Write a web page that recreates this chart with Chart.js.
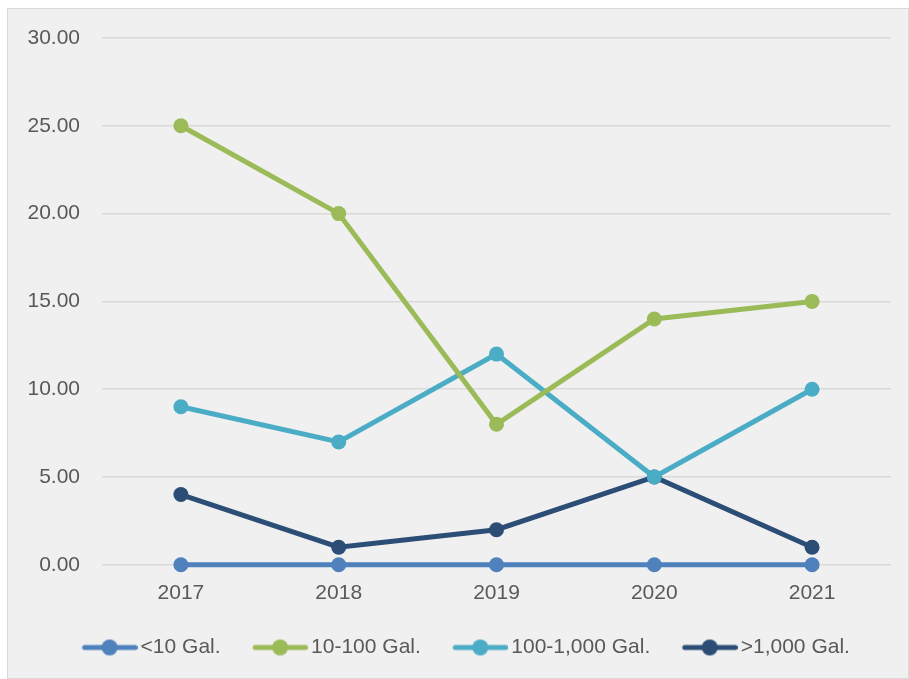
<!DOCTYPE html>
<html lang="en">
<head>
    <meta charset="UTF-8">
    <title>Spills by volume</title>
    <script src="https://cdn.jsdelivr.net/npm/chart.js"></script>
    <style>
        body { margin: 0; background: #ffffff; }
        #frame {
            position: absolute; left: 7px; top: 8px;
            width: 902px; height: 671px;
            background: #f0f0f0; border: 1px solid #d9d9d9; box-sizing: border-box;
        }
        #myChart { display: block; }
    </style>
</head>
<body>
    <div id="frame"><canvas id="myChart" width="900" height="669"></canvas></div>
    <script>
        const years = ['2017', '2018', '2019', '2020', '2021'];
        const under10 = [0, 0, 0, 0, 0];
        const from10to100 = [25, 20, 8, 14, 15];
        const from100to1000 = [9, 7, 12, 5, 10];
        const over1000 = [4, 1, 2, 5, 1];
        const seriesNames = ['<10 Gal.', '10-100 Gal.', '100-1,000 Gal.', '>1,000 Gal.'];
        const colors = ['#4f81bd', '#9bbb59', '#4bacc6', '#2c4d75'];

        const labelFont = { family: 'Liberation Sans', size: 21 };

        // line-with-dot swatch for the legend; drawn on the right side of the
        // canvas so it sits just before the label text
        function swatch(color) {
            const c = document.createElement('canvas');
            c.width = 72; c.height = 20;
            const g = c.getContext('2d');
            g.strokeStyle = color; g.lineWidth = 5; g.lineCap = 'round';
            g.beginPath(); g.moveTo(19, 10); g.lineTo(69.5, 10); g.stroke();
            g.fillStyle = color;
            g.beginPath(); g.arc(44, 10, 8, 0, Math.PI * 2); g.fill();
            return c;
        }

        function makeSet(i, values) {
            return {
                label: seriesNames[i],
                data: values,
                borderColor: colors[i],
                backgroundColor: colors[i],
                borderWidth: 5,
                pointRadius: 7.5,
                pointHoverRadius: 7.5,
                pointBorderWidth: 0,
                pointStyle: 'circle',
                clip: 12,
                tension: 0
            };
        }

        // nudge the legend row a little to the right
        const legendShift = {
            id: 'legendShift',
            afterLayout(chart) {
                chart.legend.left += 12;
                chart.legend.right += 12;
            }
        };

        const ctx = document.getElementById('myChart').getContext('2d');
        const myChart = new Chart(ctx, {
            type: 'line',
            data: {
                labels: years,
                datasets: [
                    makeSet(0, under10),
                    makeSet(1, from10to100),
                    makeSet(2, from100to1000),
                    makeSet(3, over1000)
                ]
            },
            options: {
                responsive: false,
                animation: false,
                layout: { padding: { left: 0, right: 17, top: 29, bottom: 10 } },
                plugins: {
                    tooltip: { enabled: false },
                    legend: {
                        position: 'bottom',
                        labels: {
                            color: '#595959',
                            font: labelFont,
                            padding: 23,
                            usePointStyle: true,
                            pointStyleWidth: 57,
                            generateLabels: function(chart) {
                                return chart.data.datasets.map(function(ds, i) {
                                    return {
                                        text: ds.label,
                                        fillStyle: ds.borderColor,
                                        strokeStyle: ds.borderColor,
                                        pointStyle: swatch(ds.borderColor),
                                        fontColor: '#595959',
                                        datasetIndex: i,
                                        hidden: false
                                    };
                                });
                            }
                        }
                    }
                },
                scales: {
                    x: {
                        offset: true,
                        grid: { display: false },
                        border: { display: false },
                        ticks: {
                            color: '#595959',
                            font: labelFont,
                            padding: 8
                        }
                    },
                    y: {
                        min: 0,
                        max: 30,
                        afterFit: function(scale) {
                            scale.width = 94;
                            scale.paddingTop = 0;
                        },
                        grid: { color: '#d9d9d9', lineWidth: 1.5, drawTicks: false },
                        border: { display: false },
                        ticks: {
                            stepSize: 5,
                            color: '#595959',
                            font: labelFont,
                            padding: 22,
                            callback: function(value) { return value.toFixed(2); }
                        }
                    }
                }
            },
            plugins: [legendShift]
        });
    </script>
</body>
</html>
